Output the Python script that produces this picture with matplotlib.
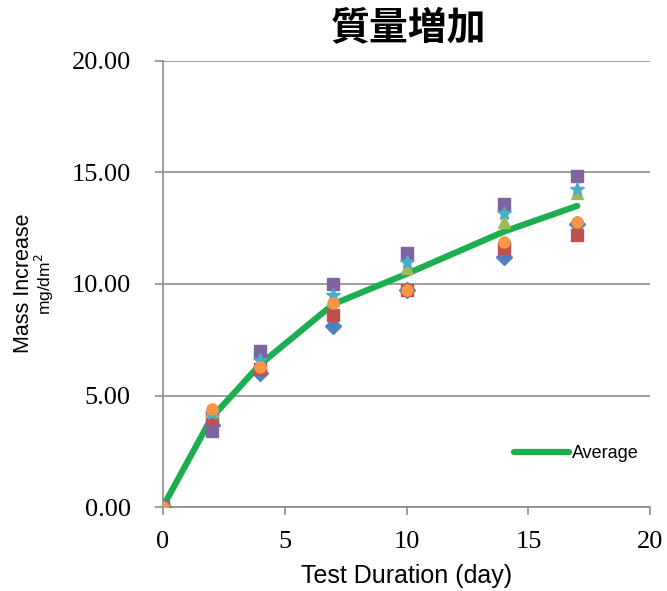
import matplotlib.pyplot as plt

# |====| data section
days = [0, 2, 4, 7, 10, 14, 17]

s1 = [0, 3.7, 6.0, 8.1, 9.75, 11.2, 12.7]   # blue diamond
s2 = [0, 4.0, 6.2, 8.6, 9.75, 11.6, 12.2]   # red square
s3 = [0, 4.3, 6.5, 9.3, 10.7, 12.8, 14.1]   # green triangle
s4 = [0, 3.4, 7.0, 10.0, 11.4, 13.6, 14.85] # purple square
s5 = [0, 4.2, 6.6, 9.5, 11.0, 13.2, 14.25]  # teal star
s6 = [0, 4.4, 6.3, 9.15, 9.75, 11.9, 12.8]  # orange circle
average = [0, 4.0, 6.4, 9.1, 10.45, 12.35, 13.5]

yticks = [0, 5, 10, 15, 20]
ytick_labels = ["0.00", "5.00", "10.00", "15.00", "20.00"]
xticks = [0, 5, 10, 15, 20]

# |====| plot section
fig = plt.figure(figsize=(6.67, 5.91), dpi=100)
ax = fig.add_axes([0.244, 0.142, 0.731, 0.755])

ax.plot(days, average, color='#1DAE4F', lw=4.5, solid_capstyle='round', label='Average', zorder=2)

series = [
    (s1, '#4F81BD', 'D'),
    (s2, '#C0504D', 's'),
    (s3, '#9BBB59', '^'),
    (s4, '#8064A2', 's'),
    (s5, '#4BACC6', '*'),
    (s6, '#F79646', 'o'),
]
for vals, col, mk in series:
    ax.plot(days, vals, ls='none', marker=mk, color=col, ms=8 if mk != '*' else 10,
            mec=col, zorder=3)

ax.set_xlim(0, 20)
ax.set_ylim(0, 20)
ax.set_xticks(xticks)
ax.set_xticklabels([str(x) for x in xticks], family='Liberation Serif', fontsize=19)
ax.set_yticks(yticks)
ax.set_yticklabels(ytick_labels, family='Liberation Serif', fontsize=19)

ax.grid(True, axis='y', color='#8c8c8c', lw=1.2)
ax.set_axisbelow(True)
for side in ['top', 'right']:
    ax.spines[side].set_visible(False)
for side in ['left', 'bottom']:
    ax.spines[side].set_color('#8c8c8c')
    ax.spines[side].set_linewidth(1.2)
ax.tick_params(colors='#8c8c8c', labelcolor='black', length=6, width=1.2)
ax.tick_params(axis='y', pad=17)
ax.tick_params(axis='x', pad=11)

ax.set_xlabel('Test Duration (day)', family='Liberation Sans', fontsize=18, labelpad=8)
fig.text(0.035, 0.52, 'Mass Increase', rotation=90, family='Liberation Sans',
         fontsize=15.5, ha='center', va='center')
fig.text(0.066, 0.52, 'mg/dm$^2$', rotation=90, family='Liberation Sans',
         fontsize=12.5, ha='center', va='center')

fig.text(0.613, 0.953, '質量増加', family=['Noto Sans CJK JP', 'DejaVu Sans'],
         fontsize=28, fontweight='bold', ha='center', va='center')

h, l = ax.get_legend_handles_labels()
ax.legend(h[:1], l[:1], loc='lower right', frameon=False,
          prop={'family': 'Liberation Sans', 'size': 13},
          handlelength=3.0, handletextpad=0.2, bbox_to_anchor=(1.01, 0.065))

fig.savefig('out.png', dpi=100)
